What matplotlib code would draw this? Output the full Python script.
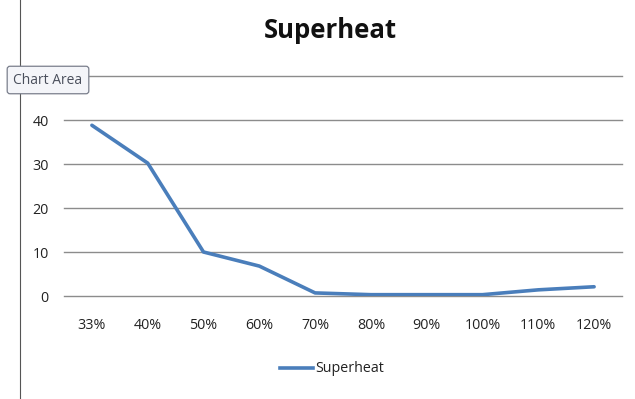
import matplotlib
matplotlib.use('Agg')
from matplotlib import pyplot as plt
from matplotlib.lines import Line2D

categories = ['33%', '40%', '50%', '60%', '70%', '80%', '90%', '100%', '110%', '120%']
superheat = [38.8, 30.2, 10.0, 6.8, 0.7, 0.3, 0.3, 0.3, 1.4, 2.1]
yticks = [0, 10, 20, 30, 40, 50]
ylabels = ['0', '10', '20', '30', '40', '']  # 50 sits under the tooltip

plt.rcParams['font.family'] = ['Open Sans', 'DejaVu Sans']

W, H = 635, 399
fig = plt.figure(figsize=(W / 100, H / 100), dpi=100)
ax = fig.add_axes([64 / W, 1 - 296 / H, (622 - 64) / W, (296 - 76) / H])

x = list(range(len(categories)))
ax.plot(x, superheat, color='#4a7ebb', lw=2.6, solid_capstyle='round', zorder=3)

ax.set_xlim(-0.5, len(categories) - 0.5)
ax.set_ylim(0, 50)
ax.set_yticks(yticks)
ax.set_xticks(x)
ax.set_xticklabels(categories, fontsize=10.3, color='#222222')
ax.set_yticklabels(ylabels, fontsize=10.3, color='#222222')
ax.tick_params(axis='x', length=0, pad=16)
ax.tick_params(axis='y', length=0, pad=11)
for s in ax.spines.values():
    s.set_visible(False)
ax.grid(axis='y', color='#8c8c8c', lw=1)
for gl in ax.get_ygridlines():
    gl.set_clip_on(False)
ax.set_axisbelow(True)

fig.text(330 / W, 1 - 30 / H, 'Superheat', ha='center', va='center',
         fontsize=18.5, fontweight='bold', color='#111111')

# legend
fig.add_artist(Line2D([280 / W, 313 / W], [1 - 368 / H] * 2, color='#4a7ebb', lw=2.6,
                      transform=fig.transFigure))
fig.text(315 / W, 1 - 368 / H, 'Superheat', ha='left', va='center', fontsize=10.3, color='#222222')

# chart area border on the left
fig.add_artist(Line2D([20 / W, 20 / W], [0, 1], color='#555555', lw=0.8,
                      transform=fig.transFigure))

# "Chart Area" tooltip
fig.text(48 / W, 1 - 80 / H, 'Chart Area', ha='center', va='center', fontsize=10,
         color='#4a4f5c', zorder=10,
         bbox=dict(boxstyle='round,pad=0.45,rounding_size=0.2', fc='#f4f5f9', ec='#7a7f8c', lw=0.9))

fig.savefig('out.png', dpi=100)
